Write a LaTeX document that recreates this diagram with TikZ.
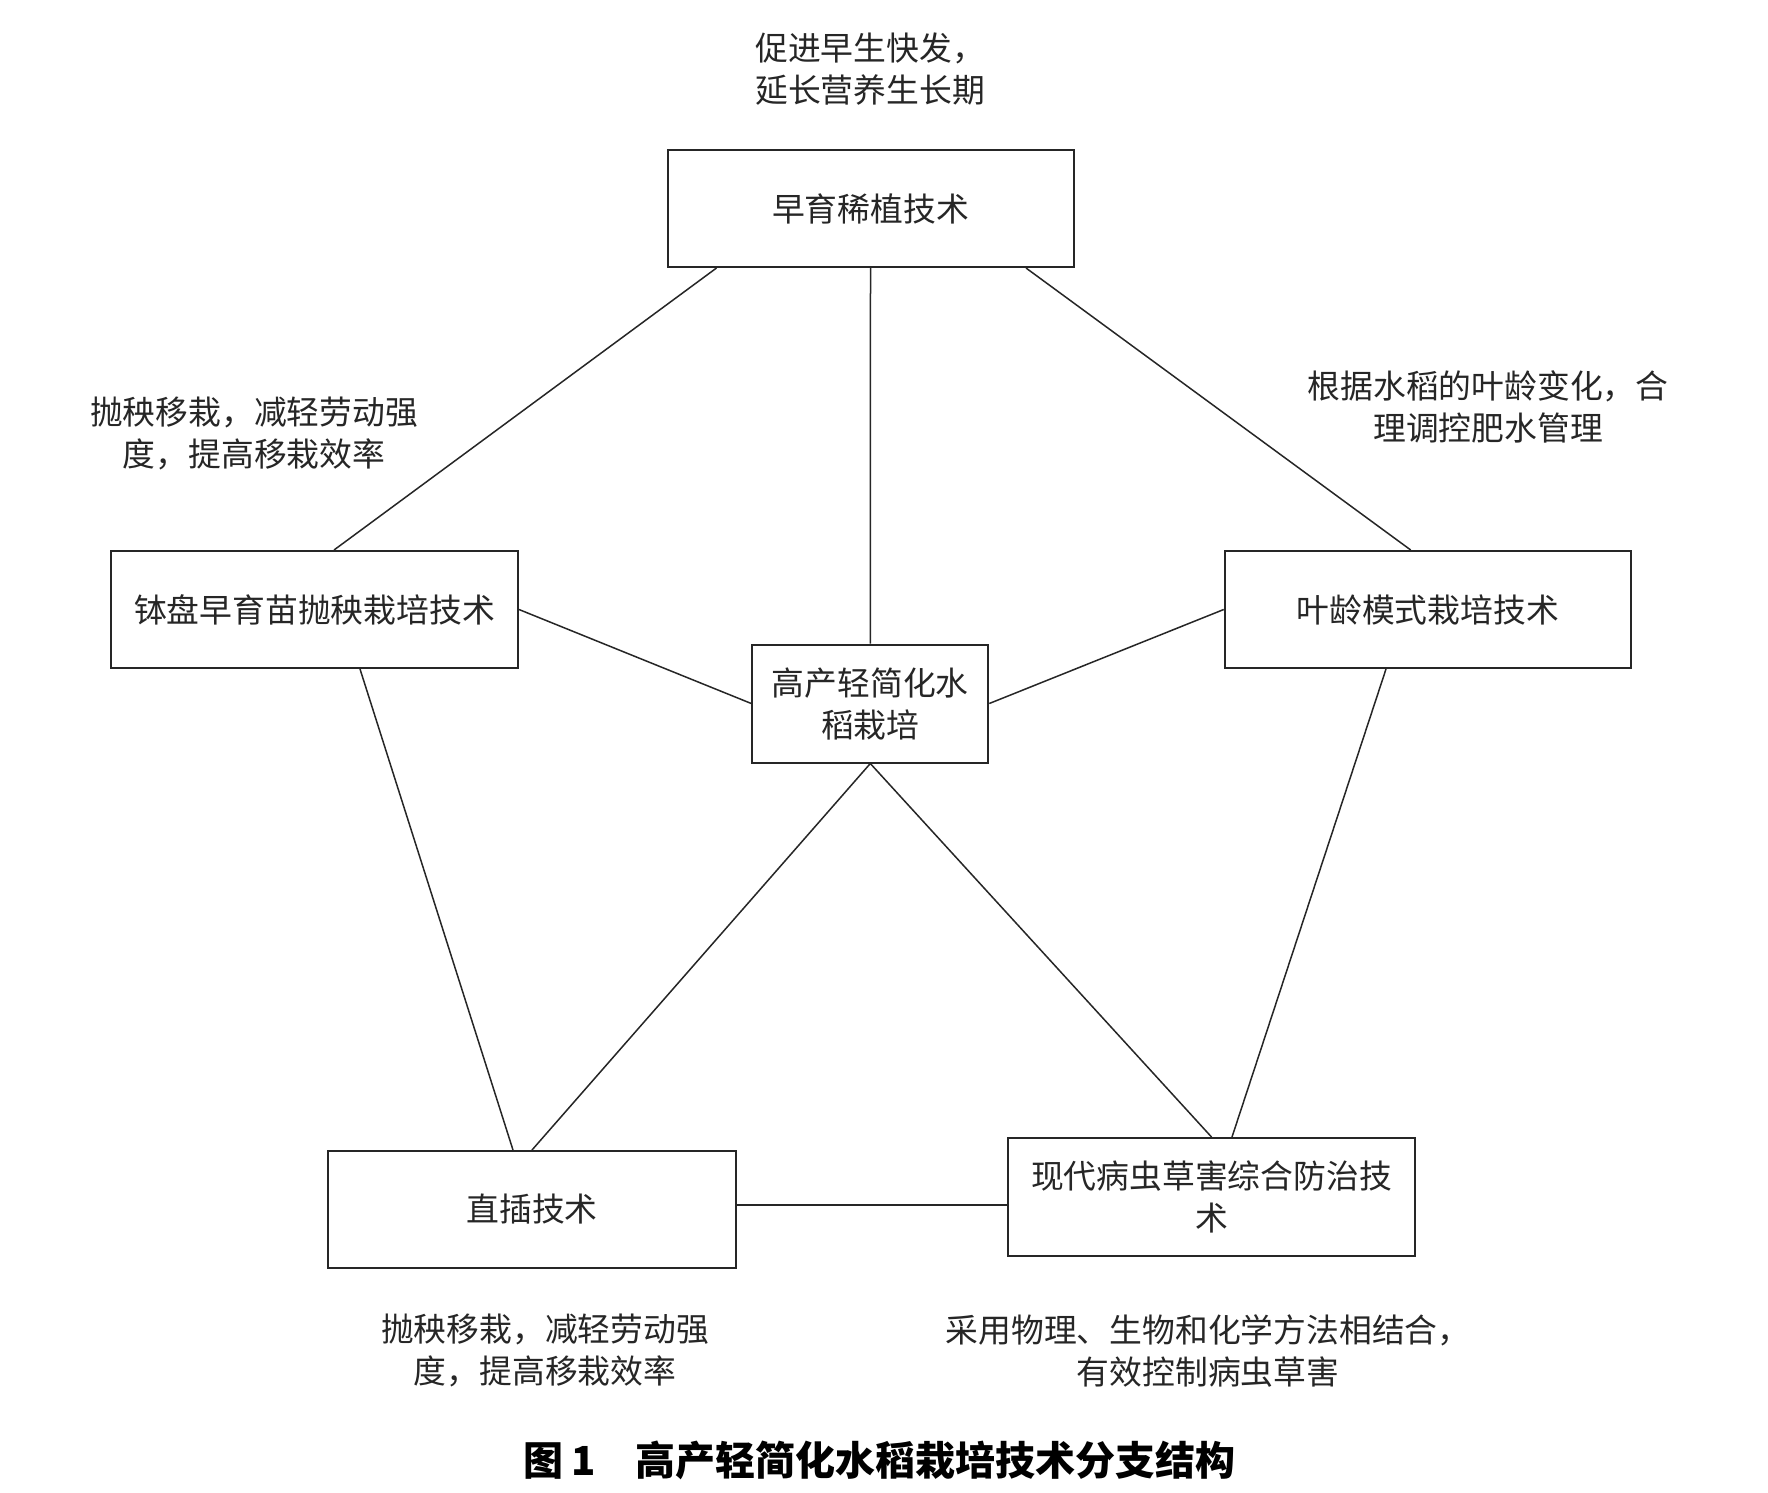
\documentclass[tikz,border=0pt]{standalone}
\usepackage{fontspec}
\newfontfamily\cjk{Noto Sans CJK SC}
\begin{document}
\begin{tikzpicture}[x=1pt,y=-1pt,
  box/.style={draw=black!85,line width=2pt,rectangle,inner sep=0pt,align=center,
    font=\cjk\fontsize{32.8}{42}\selectfont,text=black!85},
  lbl/.style={align=center,inner sep=0pt,font=\cjk\fontsize{32.8}{42}\selectfont,text=black!85},
  link/.style={draw=black!85,line width=1.5pt}]
\useasboundingbox (0,0) rectangle (1768,1492);
\fill[white] (0,0) rectangle (1768,1492);
% boxes
\node[box,minimum width=406pt,minimum height=117pt] (T) at (870.5,208.5) {早育稀植技术};
\node[box,minimum width=407pt,minimum height=117pt] (L) at (314.5,609.5) {钵盘早育苗抛秧栽培技术};
\node[box,minimum width=406pt,minimum height=117pt] (R) at (1427.7,609.5) {叶龄模式栽培技术};
\node[box,minimum width=236pt,minimum height=118pt] (C) at (870.3,703.5) {高产轻简化水\\稻栽培};
\node[box,minimum width=408pt,minimum height=117pt] (BL) at (532,1209.5) {直插技术};
\node[box,minimum width=407pt,minimum height=118pt] (BR) at (1211.5,1197) {现代病虫草害综合防治技\\术};
% labels
\node[lbl] (tl) at (870,69.5) {促进早生快发，\\延长营养生长期};
\node[lbl] (ll) at (254,433.5) {抛秧移栽，减轻劳动强\\度，提高移栽效率};
\node[lbl] (rl) at (1488,407) {根据水稻的叶龄变化，合\\理调控肥水管理};
\node[lbl] (bll) at (545,1350) {抛秧移栽，减轻劳动强\\度，提高移栽效率};
\node[lbl] (brl) at (1208,1351) {采用物理、生物和化学方法相结合，\\有效控制病虫草害};
\node[anchor=west,inner sep=0pt,font=\cjk\bfseries\fontsize{40}{44}\selectfont] (cap) at (523,1460)
  {图\hspace{8pt}1\hspace{40pt}高产轻简化水稻栽培技术分支结构};
% connectors
\draw[link] ([xshift=-154pt]T.south) -- ([xshift=19.5pt]L.north);
\draw[link] (T.south) -- (C.north);
\draw[link] ([xshift=155.5pt]T.south) -- ([xshift=-17pt]R.north);
\draw[link] (L.east) -- (C.west);
\draw[link] (R.west) -- (C.east);
\draw[link] ([xshift=45.5pt]L.south) -- ([xshift=-19pt]BL.north);
\draw[link] ([xshift=-41.7pt]R.south) -- ([xshift=20.5pt]BR.north);
\draw[link] (C.south) -- (BL.north);
\draw[link] (C.south) -- (BR.north);
\draw[link,line width=2.5pt] ([yshift=4.5pt]BL.east) -- ([yshift=-8pt]BR.west);
\end{tikzpicture}
\end{document}
